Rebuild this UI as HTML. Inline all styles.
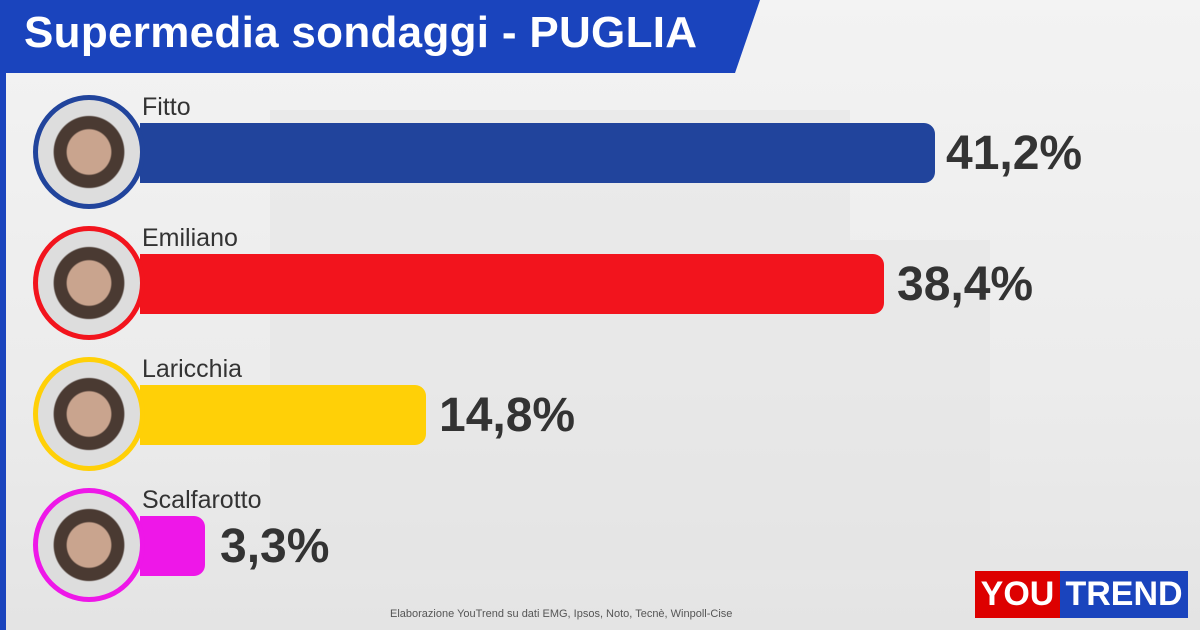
<!DOCTYPE html>
<html><head><meta charset="utf-8"><style>
body{margin:0;width:1200px;height:630px;overflow:hidden;background:#efefef;font-family:"Liberation Sans",sans-serif;position:relative}
.bg{position:absolute;left:0;top:0;width:1200px;height:630px;background:linear-gradient(180deg,#f3f3f3 0%,#ececec 60%,#e4e4e4 100%)}
.castle{position:absolute;background:#e4e4e4}
.hdr{position:absolute;left:0;top:0;width:760px;height:73px;background:#1a44bd;clip-path:polygon(0 0,760px 0,735px 73px,0 73px)}
.hdr span{position:absolute;left:24px;top:8px;color:#fff;font-weight:bold;font-size:44px;letter-spacing:0.3px}
.lb{position:absolute;left:0;top:73px;width:6px;height:557px;background:#1a44bd}
.bar{position:absolute;left:140px;height:60px;border-radius:0 11px 11px 0}
.name{position:absolute;left:142px;font-size:25px;color:#333}
.pct{position:absolute;font-size:48px;font-weight:bold;color:#333}
.c{position:absolute;width:102px;height:104px;border-radius:50%;border:5px solid;background:radial-gradient(ellipse at 50% 50%,#c9a48e 0 30%,#4a3a32 32% 48%,#ddd 50%);z-index:2}
.foot{position:absolute;left:390px;top:608px;font-size:11px;color:#555}
.logo{position:absolute;left:975px;top:571px;height:47px;display:flex;font-weight:bold;font-size:34px;color:#fff;line-height:47px}
</style></head><body>
<div class="bg"></div>
<div class="castle" style="left:270px;top:110px;width:580px;height:460px;opacity:.5"></div>
<div class="castle" style="left:850px;top:240px;width:140px;height:330px;opacity:.5"></div>
<div class="hdr"><span>Supermedia sondaggi - PUGLIA</span></div>
<div class="lb"></div>

<div class="bar" style="top:123px;width:795px;background:#21449c"></div>
<div class="bar" style="top:254px;width:744px;background:#f2141d"></div>
<div class="bar" style="top:385px;width:286px;background:#ffd007"></div>
<div class="bar" style="top:516px;width:65px;background:#ee17e8"></div>

<div class="c" style="left:33px;top:95px;border-color:#21449c"></div>
<div class="c" style="left:33px;top:226px;border-color:#f2141d"></div>
<div class="c" style="left:33px;top:357px;border-color:#ffd007"></div>
<div class="c" style="left:33px;top:488px;border-color:#ee17e8"></div>

<div class="name" style="top:93px">Fitto</div>
<div class="name" style="top:224px">Emiliano</div>
<div class="name" style="top:355px">Laricchia</div>
<div class="name" style="top:486px">Scalfarotto</div>

<div class="pct" style="left:946px;top:126px">41,2%</div>
<div class="pct" style="left:897px;top:257px">38,4%</div>
<div class="pct" style="left:439px;top:388px">14,8%</div>
<div class="pct" style="left:220px;top:519px">3,3%</div>

<div class="foot">Elaborazione YouTrend su dati EMG, Ipsos, Noto, Tecnè, Winpoll-Cise</div>
<div class="logo"><div style="background:#d00;width:85px;text-align:center">YOU</div><div style="background:#1a44bd;width:128px;text-align:center">TREND</div></div>
</body></html>
